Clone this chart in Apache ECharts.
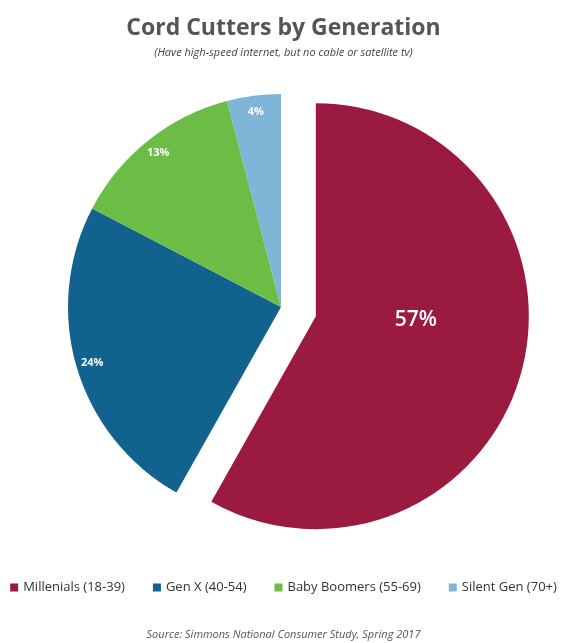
<!DOCTYPE html>
<html><head><meta charset="utf-8">
<script src="https://cdn.jsdelivr.net/npm/echarts@6/dist/echarts.min.js"></script>
<style>html,body{margin:0;padding:0;background:#fff}#c{width:567px;height:643px}</style>
</head><body><div id="c"></div>
<script>
const categories = ['Millenials (18-39)', 'Gen X (40-54)', 'Baby Boomers (55-69)', 'Silent Gen (70+)'];
const values = [57, 24, 13, 4];
const colors = ['#9b1a40', '#11628e', '#6cbd45', '#7fb5d6'];
const chart = echarts.init(document.getElementById('c'));
chart.setOption({
  animation: false,
  title: [
    {text: 'Cord Cutters by Generation', left: 'center', top: 12,
     textStyle: {fontFamily: 'Open Sans', fontSize: 23, fontWeight: 'bold', color: '#555'}},
    {text: '(Have high-speed internet, but no cable or satellite tv)', left: 'center', top: 42,
     textStyle: {fontFamily: 'Open Sans', fontSize: 11, fontStyle: 'italic', fontWeight: 'normal', color: '#444'}},
    {text: 'Source: Simmons National Consumer Study, Spring 2017', left: 'center', top: 624,
     textStyle: {fontFamily: 'Open Sans', fontSize: 11, fontStyle: 'italic', fontWeight: 'normal', color: '#555'}}
  ],
  legend: {
    data: categories, bottom: 44, left: 'center', icon: 'rect', itemWidth: 8, itemHeight: 8, itemGap: 28,
    textStyle: {fontFamily: 'Open Sans', fontSize: 13, color: '#333'}
  },
  series: [
    {
      type: 'pie', center: [281, 307], radius: 213, startAngle: 90, clockwise: true,
      selectedMode: 'single', selectedOffset: 36, silent: true,
      label: {show: false},
      labelLine: {show: false},
      data: categories.map((n, i) => ({
        name: n, value: values[i], selected: i === 0,
        itemStyle: {color: colors[i]},
        label: i === 0 ? {show: true, position: 'inside', formatter: '{c}%\n ', color: '#fff', padding: [0, 12, 0, 0],
          lineHeight: 48, fontFamily: 'Open Sans', fontSize: 21, fontWeight: 600} : {show: false}
      }))
    },
    {
      type: 'pie', center: [281, 307], radius: [175, 213], startAngle: 90, clockwise: true,
      silent: true, labelLine: {show: false},
      data: categories.map((n, i) => ({
        name: n + ' ', value: values[i],
        itemStyle: {color: 'rgba(0,0,0,0)'},
        label: i === 0 ? {show: false} : {show: true, position: 'inside', formatter: '{c}%', color: '#fff',
          fontFamily: 'Open Sans', fontSize: 11, fontWeight: 'bold'}
      }))
    }
  ]
});
</script></body></html>
